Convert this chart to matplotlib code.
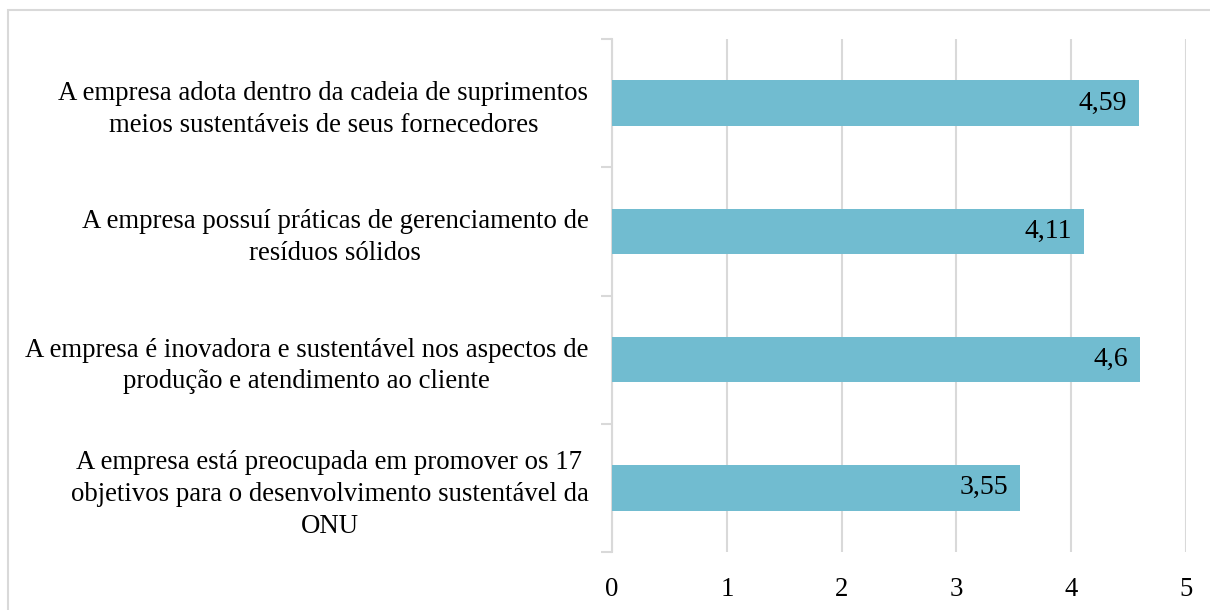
import matplotlib
matplotlib.use("Agg")
import matplotlib.pyplot as plt
from matplotlib.patches import Rectangle
import numpy as np

matplotlib.rc('font', family='Liberation Serif', size=19.3)

categories = [
    "A empresa adota dentro da cadeia de suprimentos\nmeios sustentáveis de seus fornecedores",
    "A empresa possuí práticas de gerenciamento de\nresíduos sólidos",
    "A empresa é inovadora e sustentável nos aspectos de\nprodução e atendimento ao cliente",
    "A empresa está preocupada em promover os 17\nobjetivos para o desenvolvimento sustentável da\nONU",
]
values = [4.59, 4.11, 4.6, 3.55]

bar_color = '#71BCD0'
grid_color = '#D9D9D9'

fig = plt.figure(figsize=(12.1, 6.1), dpi=100)
ax = fig.add_axes([612/1210, 1 - 552/610, (1186 - 612)/1210, (552 - 39)/610])

y = np.arange(len(categories))
ax.barh(y, values, height=0.355, color=bar_color, zorder=3)

for yi, v in zip(y, values):
    ax.text(v - 0.1, yi, f"{v:g}".replace('.', ','), ha='right', va='center',
            fontsize=20, zorder=4)

ax.set_xlim(0, 5)
ax.set_ylim(len(categories) - 0.5, -0.5)
ax.set_xticks(range(6))
ax.set_yticks(y)
ax.set_yticklabels(categories, multialignment='center', linespacing=1.36)
ax.set_yticks(np.arange(-0.5, len(categories)), minor=True)

ax.tick_params(axis='y', which='major', length=0, pad=17)
ax.tick_params(axis='y', which='minor', length=8, width=1.5, color=grid_color, direction='out')
ax.tick_params(axis='x', length=0, pad=18)

ax.grid(axis='x', color=grid_color, linewidth=1.5, zorder=0)
for s in ['top', 'right', 'bottom']:
    ax.spines[s].set_visible(False)
ax.spines['left'].set_color(grid_color)
ax.spines['left'].set_linewidth(1.5)

fig.patches.append(Rectangle((7.5/1210, -0.1), 1.2, 1.1 - 9.5/610,
                             transform=fig.transFigure, fill=False,
                             edgecolor=grid_color, linewidth=1.5))

plt.savefig('out.png', dpi=100)
